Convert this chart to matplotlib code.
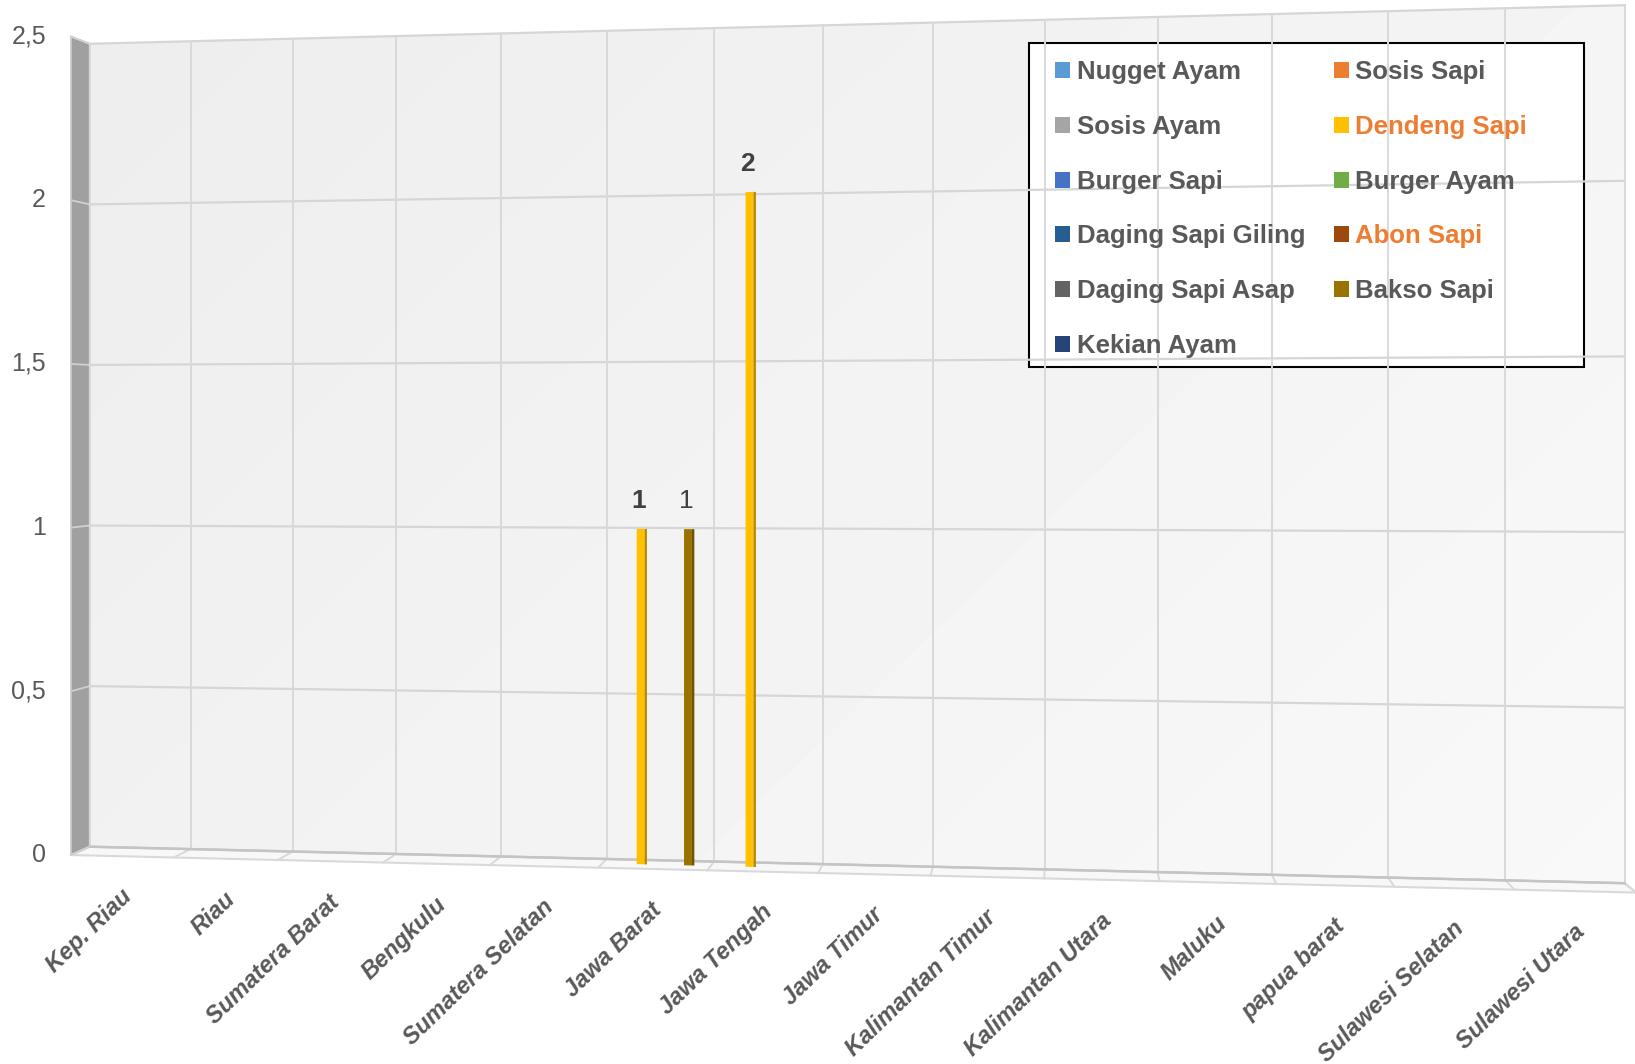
import numpy as np
import matplotlib
matplotlib.use('Agg')
import matplotlib.pyplot as plt
from matplotlib.transforms import Transform, Affine2D
from matplotlib.patches import Polygon, Patch, Rectangle

provinces = ['Kep. Riau', 'Riau', 'Sumatera Barat', 'Bengkulu', 'Sumatera Selatan',
             'Jawa Barat', 'Jawa Tengah', 'Jawa Timur', 'Kalimantan Timur',
             'Kalimantan Utara', 'Maluku', 'papua barat', 'Sulawesi Selatan',
             'Sulawesi Utara']

nugget_ayam = [0, 0, 0, 0, 0, 0, 0, 0, 0, 0, 0, 0, 0, 0]
sosis_sapi = [0, 0, 0, 0, 0, 0, 0, 0, 0, 0, 0, 0, 0, 0]
sosis_ayam = [0, 0, 0, 0, 0, 0, 0, 0, 0, 0, 0, 0, 0, 0]
dendeng_sapi = [0, 0, 0, 0, 0, 1, 2, 0, 0, 0, 0, 0, 0, 0]
burger_sapi = [0, 0, 0, 0, 0, 0, 0, 0, 0, 0, 0, 0, 0, 0]
burger_ayam = [0, 0, 0, 0, 0, 0, 0, 0, 0, 0, 0, 0, 0, 0]
daging_sapi_giling = [0, 0, 0, 0, 0, 0, 0, 0, 0, 0, 0, 0, 0, 0]
abon_sapi = [0, 0, 0, 0, 0, 0, 0, 0, 0, 0, 0, 0, 0, 0]
daging_sapi_asap = [0, 0, 0, 0, 0, 0, 0, 0, 0, 0, 0, 0, 0, 0]
bakso_sapi = [0, 0, 0, 0, 0, 1, 0, 0, 0, 0, 0, 0, 0, 0]
kekian_ayam = [0, 0, 0, 0, 0, 0, 0, 0, 0, 0, 0, 0, 0, 0]

series = [
    ('Nugget Ayam', nugget_ayam, '#5B9BD5'),
    ('Sosis Sapi', sosis_sapi, '#ED7D31'),
    ('Sosis Ayam', sosis_ayam, '#A5A5A5'),
    ('Dendeng Sapi', dendeng_sapi, '#FFC000'),
    ('Burger Sapi', burger_sapi, '#4472C4'),
    ('Burger Ayam', burger_ayam, '#70AD47'),
    ('Daging Sapi Giling', daging_sapi_giling, '#255E91'),
    ('Abon Sapi', abon_sapi, '#9E480E'),
    ('Daging Sapi Asap', daging_sapi_asap, '#636363'),
    ('Bakso Sapi', bakso_sapi, '#997300'),
    ('Kekian Ayam', kekian_ayam, '#264478'),
]
bold_labels = ['Dendeng Sapi']
orange_legend = ['Dendeng Sapi', 'Abon Sapi']

y_ticks = [0, 0.5, 1, 1.5, 2, 2.5]
y_tick_labels = ['0', '0,5', '1', '1,5', '2', '2,5']

W_PX, H_PX = 1635, 1064
K = W_PX / 1568


def disp(x, y):
    return (x * K, H_PX - y * K)


def homography(bl, br, tr, tl):
    src = [(0, 0), (1, 0), (1, 1), (0, 1)]
    A, b = [], []
    for (x, y), (X, Y) in zip(src, [bl, br, tr, tl]):
        A.append([x, y, 1, 0, 0, 0, -X * x, -X * y]); b.append(X)
        A.append([0, 0, 0, x, y, 1, -Y * x, -Y * y]); b.append(Y)
    h = np.linalg.solve(np.array(A, float), np.array(b, float))
    return np.append(h, 1).reshape(3, 3)


class Persp(Transform):
    # maps the unit square of the axes onto a tilted quadrilateral (pixels)
    input_dims = 2
    output_dims = 2

    def __init__(self, corners):
        super().__init__()
        self.H = homography(*[disp(*c) for c in corners])

    def transform_non_affine(self, values):
        v = np.asarray(values, float)
        one = v.ndim == 1
        v = v.reshape(-1, 2)
        p = np.column_stack([v, np.ones(len(v))]) @ self.H.T
        out = p[:, :2] / p[:, 2:]
        return out[0] if one else out


# corners (bl, br, tr, tl) in reference pixels (1568 wide)
wall_c = [(86, 812), (1558, 847), (1558, 5), (86, 42)]
front_c = [(68, 820), (1569, 856), (1569, -3), (68, 35)]
bar_c = [tuple((np.array(a) + np.array(b)) / 2) for a, b in zip(wall_c, front_c)]

fig = plt.figure(figsize=(W_PX / 100, H_PX / 100), dpi=100)
bg = fig.add_axes([0, 0, 1, 1], zorder=0)
bg.set_xlim(0, W_PX); bg.set_ylim(0, H_PX); bg.axis('off')
ax = fig.add_axes([0, 0, 1, 1], zorder=1)
ax.set_xlim(0, len(provinces)); ax.set_ylim(0, 2.5); ax.axis('off')

wall = ax.transLimits + Persp(wall_c)
front = ax.transLimits + Persp(front_c)
barp = ax.transLimits + Persp(bar_c)
n = len(provinces)

# wall with soft gradient
wpts = wall.transform([(0, 0), (n, 0), (n, 2.5), (0, 2.5)])
yy, xx = np.mgrid[0:1:200j, 0:1:300j]
grad = 0.928 + 0.05 * (0.6 * xx + 0.4 * yy)
im = bg.imshow(grad, extent=(0, W_PX, 0, H_PX), origin='upper', cmap='gray',
               vmin=0, vmax=1, aspect='auto', interpolation='bilinear')
im.set_clip_path(Polygon(wpts, closed=True, transform=bg.transData))

# floor and left side wall
fpts = front.transform([(0, 0), (n, 0), (n, 2.5), (0, 2.5)])
bg.add_patch(Polygon([wpts[0], wpts[1], fpts[1], fpts[0]], closed=True,
                     facecolor='#f8f8f8', edgecolor='#d9d9d9', lw=1.5))
bg.add_patch(Polygon([fpts[0], fpts[3], wpts[3], wpts[0]], closed=True,
                     facecolor='#a0a0a0', edgecolor='#d0d0d0', lw=1.2))
for i in range(n + 1):
    a = wall.transform((i, 0)); b = front.transform((i, 0))
    bg.plot([a[0], b[0]], [a[1], b[1]], color='#d9d9d9', lw=1.4)
for v in y_ticks:
    a = wall.transform((0, v)); b = front.transform((0, v))
    bg.plot([a[0], b[0]], [a[1], b[1]], color='#d0d0d0', lw=1.3)

# gridlines on the wall
for v in y_ticks:
    ax.plot([0, n], [v, v], color='#d6d6d6', lw=1.6, transform=wall, clip_on=False)
for i in range(n + 1):
    ax.plot([i, i], [0, 2.5], color='#d9d9d9', lw=1.4, transform=wall, clip_on=False)
ax.plot([0, n], [0, 0], color='#c4c4c4', lw=1.8, transform=wall, clip_on=False)

# y tick labels
for v, lab in zip(y_ticks, y_tick_labels):
    ax.text(0, v, lab, transform=front + Affine2D().translate(-25, 0),
            ha='right', va='center', fontsize=18, color='#595959',
            family=['Liberation Sans', 'DejaVu Sans'])

# x tick labels
for i, name in enumerate(provinces):
    ax.text(i + 0.5, 0, name, transform=front + Affine2D().translate(-2, -29),
            ha='right', va='top', rotation=44, rotation_mode='anchor',
            fontsize=17, fontweight='bold', fontstyle='italic', color='#595959',
            family=['Liberation Sans', 'DejaVu Sans'])

# bars
slot = 0.8 / len(series)
side = 0.022
x = np.arange(n) + 0.5
handles = []
for s, (name, vals, col) in enumerate(series):
    xs = x + (s - (len(series) - 1) / 2) * slot
    dark = tuple(c * 0.72 for c in matplotlib.colors.to_rgb(col))
    ax.bar(xs, vals, width=slot, color=col, linewidth=0, transform=barp,
           clip_on=False, zorder=3)
    ax.bar(xs + slot / 2 + side / 2, vals, width=side, color=dark, linewidth=0,
           transform=barp, clip_on=False, zorder=3)
    for xi, v in zip(xs, vals):
        if v > 0:
            ax.text(xi, v, f'{v}', transform=barp + Affine2D().translate(-2, 28),
                    ha='center', va='center', fontsize=19, color='#404040',
                    fontweight='bold' if name in bold_labels else 'normal',
                    family=['Liberation Sans', 'DejaVu Sans'])
    handles.append(Patch(facecolor=col, edgecolor='none', label=name))

# legend, row-wise like the original
bg.add_patch(Rectangle((1029, H_PX - 367), 555, 324, facecolor='white',
                       edgecolor='black', lw=1.5, zorder=5))
order = list(range(0, len(series), 2)) + list(range(1, len(series), 2))
leg = fig.legend([handles[i] for i in order], [series[i][0] for i in order],
                 loc='upper left', bbox_to_anchor=(1055 / W_PX, 1 - 60 / H_PX),
                 ncol=2, frameon=False, borderaxespad=0, borderpad=0,
                 prop={'family': ['Liberation Sans', 'DejaVu Sans'],
                       'weight': 'bold', 'size': 18.5},
                 handlelength=0.58, handleheight=0.58, handletextpad=0.27,
                 labelspacing=1.2, columnspacing=1.1)
for t in leg.get_texts():
    t.set_color('#ED7D31' if t.get_text() in orange_legend else '#595959')

fig.savefig('out.png', dpi=100)
